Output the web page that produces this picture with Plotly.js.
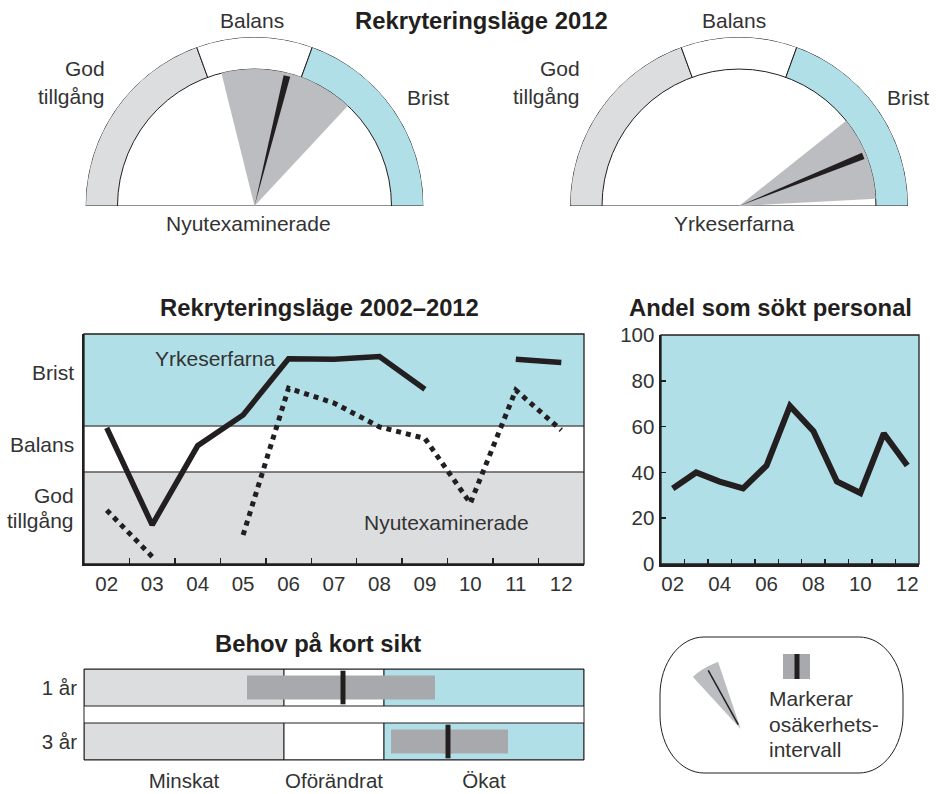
<!DOCTYPE html>
<html><head><meta charset="utf-8">
<script src="https://cdn.plot.ly/plotly-3.0.1.min.js"></script>
<style>html,body{margin:0;padding:0;background:#fff}#chart{width:940px;height:794px}</style>
</head><body><div id="chart"></div>
<script>
// ---------------- DATA ----------------
const years = [2002,2003,2004,2005,2006,2007,2008,2009,2010,2011,2012];
const yearLabels = ['02','03','04','05','06','07','08','09','10','11','12'];
const halfYears = [2002.5,2003.5,2004.5,2005.5,2006.5,2007.5,2008.5,2009.5,2010.5,2011.5];

// Rekryteringsläge 2002–2012 (scale: God tillgång 0–2, Balans 2–3, Brist 3–5)
const lageZoneNames = ['God tillgång','Balans','Brist'];
const lageZoneBounds = [0,2,3,5];
const yrkeserfarnaLage = [2.96,0.85,2.57,3.24,4.46,4.45,4.51,3.80,null,4.45,4.38];
const nyutexLage      = [1.17,0.16,null,0.63,3.82,3.50,2.98,2.73,1.32,3.78,2.91];

// Andel som sökt personal (%)
const andelSokt = [33,40,36,33,43,69,58,36,31,57,43];
const andelTickYears = [2002,2004,2006,2008,2010,2012];
const andelTickLabels = ['02','04','06','08','10','12'];
const andelYTicks = [0,20,40,60,80,100];

// Behov på kort sikt (scale: Minskat 0–2, Oförändrat 2–3, Ökat 3–5)
const behovRows = ['1 år','3 år'];
const behovZoneNames = ['Minskat','Oförändrat','Ökat'];
const behovZoneBounds = [0,2,3,5];
const behovLow = [1.63,3.07];
const behovHigh = [3.51,4.24];
const behovEstimate = [2.59,3.64];

// Rekryteringsläge 2012 gauges (angles in degrees, 180 = God tillgång end, 0 = Brist end)
const gaugeNames = ['Nyutexaminerade','Yrkeserfarna'];
const gaugeZoneAngles = [180,110,70,0];
const gaugeEstimate = [76,22];
const gaugeLow = [47,3];
const gaugeHigh = [104,38.5];

// ---------------- STYLE ----------------
const W = 940, H = 794;
const px = x => x / W;
const py = y => 1 - y / H;
const dark = '#231f20', txt = '#333333';
const blue = '#b0dfe8', lightGrey = '#dcdddf', wedgeGrey = '#bcbdc0', barGrey = '#a7a9ac';
const FONT = 'Liberation Sans, Arial, sans-serif';
const GR = 169, GI = 137, GN = 134;

const traces = [];

// ----- gauges -----
const zoneColors = [lightGrey, '#ffffff', blue];
gaugeNames.forEach((name, g) => {
  const sp = g === 0 ? 'polar' : 'polar2';
  const zTheta = [], zWidth = [];
  for (let i = 0; i < 3; i++) {
    zTheta.push((gaugeZoneAngles[i] + gaugeZoneAngles[i+1]) / 2);
    zWidth.push(gaugeZoneAngles[i] - gaugeZoneAngles[i+1]);
  }
  traces.push({type:'barpolar', subplot:sp, r:[GR,GR,GR], theta:zTheta, width:zWidth,
    marker:{color:zoneColors, line:{color:dark, width:1}}});
  traces.push({type:'barpolar', subplot:sp, r:[GI], theta:[90], width:[180],
    marker:{color:'#ffffff', line:{color:dark, width:1}}});
  traces.push({type:'barpolar', subplot:sp, r:[GI], theta:[(gaugeLow[g]+gaugeHigh[g])/2],
    width:[gaugeHigh[g]-gaugeLow[g]], marker:{color:wedgeGrey, line:{width:0}}});
  traces.push({type:'barpolar', subplot:sp, r:[GN], theta:[gaugeEstimate[g]], width:[2.9],
    marker:{color:dark, line:{width:0}}});
});

// ----- legend wedge icon -----
const legWedge = {low:108.6, high:132.5, needle:119};
traces.push({type:'barpolar', subplot:'polar3', r:[71], theta:[(legWedge.low+legWedge.high)/2],
  width:[legWedge.high-legWedge.low], marker:{color:wedgeGrey, line:{width:0}}});
traces.push({type:'scatterpolar', subplot:'polar3', r:[5,67], theta:[legWedge.needle, legWedge.needle],
  mode:'lines', line:{color:dark, width:1.5}});

// ----- Rekryteringsläge 2002–2012 -----
traces.push({type:'scatter', x:years, y:yrkeserfarnaLage, mode:'lines', connectgaps:false,
  line:{color:dark, width:5.5}, xaxis:'x', yaxis:'y'});
traces.push({type:'scatter', x:years, y:nyutexLage, mode:'lines', connectgaps:false,
  line:{color:dark, width:5, dash:'dot'}, xaxis:'x', yaxis:'y'});

// ----- Andel som sökt personal -----
traces.push({type:'scatter', x:years, y:andelSokt, mode:'lines',
  line:{color:dark, width:6}, xaxis:'x3', yaxis:'y3'});

// ----- Behov på kort sikt -----
const behovZoneColors = [lightGrey, '#ffffff', blue];
for (let i = 0; i < 3; i++) {
  const w = behovZoneBounds[i+1] - behovZoneBounds[i];
  traces.push({type:'bar', orientation:'h', y:behovRows, x:behovRows.map(()=>w),
    base:behovRows.map(()=>behovZoneBounds[i]), width:0.685,
    marker:{color:behovZoneColors[i], line:{color:dark, width:1}}, xaxis:'x2', yaxis:'y2'});
}
traces.push({type:'bar', orientation:'h', y:behovRows, x:behovHigh.map((h,i)=>h-behovLow[i]),
  base:behovLow, width:0.444, marker:{color:barGrey, line:{width:0}}, xaxis:'x2', yaxis:'y2'});
traces.push({type:'scatter', mode:'markers', y:behovRows, x:behovEstimate,
  marker:{symbol:'line-ns', size:24, color:dark, line:{color:dark, width:5}}, xaxis:'x2', yaxis:'y2'});

// ---------------- LAYOUT ----------------
function polarAt(cx, cy, R, sector) {
  let x0, x1, y0 = cy - R, y1 = cy;
  if (sector[0] === 0) { x0 = cx - R; x1 = cx + R; } else { x0 = cx - R; x1 = cx; }
  return {domain:{x:[px(x0), px(x1)], y:[py(y1), py(y0)]}, sector:sector, hole:0,
    bgcolor:'rgba(0,0,0,0)', barmode:'overlay',
    radialaxis:{visible:false, range:[0, R], showgrid:false, showline:false, showticklabels:false, ticks:''},
    angularaxis:{visible:false, direction:'counterclockwise', rotation:0, showgrid:false, showline:false, showticklabels:false, ticks:''}};
}

function ann(text, x, y, opts) {
  return Object.assign({text:text, x:px(x), y:py(y), xref:'paper', yref:'paper', showarrow:false,
    xanchor:'center', yanchor:'middle', font:{family:FONT, size:21, color:txt}}, opts || {});
}
const bold = (t, x, y) => ann('<b>' + t + '</b>', x, y, {font:{family:FONT, size:23.8, color:dark}});

const annotations = [
  bold('Rekryteringsläge 2012', 481, 20),
  ann('Balans', 252, 20),
  ann('God', 107, 68, {xanchor:'right'}),
  ann('tillgång', 107, 96, {xanchor:'right'}),
  ann('Brist', 405, 98, {xanchor:'left'}),
  ann(gaugeNames[0], 248, 224),
  ann('Balans', 734, 20),
  ann('God', 582, 68, {xanchor:'right'}),
  ann('tillgång', 582, 96, {xanchor:'right'}),
  ann('Brist', 885, 98, {xanchor:'left'}),
  ann(gaugeNames[1], 734, 224),
  bold('Rekryteringsläge 2002–2012', 319, 308),
  bold('Andel som sökt personal', 770, 308),
  ann('Brist', 76, 373, {xanchor:'right'}),
  ann('Balans', 76, 444, {xanchor:'right'}),
  ann('God', 76, 495, {xanchor:'right'}),
  ann('tillgång', 76, 520, {xanchor:'right'}),
  ann('Yrkeserfarna', 215, 358),
  ann('Nyutexaminerade', 446, 522),
  bold('Behov på kort sikt', 318, 643),
  ann('Markerar', 767, 698, {xanchor:'left'}),
  ann('osäkerhets-', 767, 724, {xanchor:'left'}),
  ann('intervall', 767, 749, {xanchor:'left'})
];

// stadium legend frame
function stadiumPath(x0, y0, x1, y1, rx, ry) {
  const k = 0.5523;
  const P = (x, y) => px(x) + ',' + py(y);
  return 'M' + P(x0+rx, y0) + ' L' + P(x1-rx, y0) +
    ' C' + P(x1-rx+k*rx, y0) + ' ' + P(x1, y0+ry-k*ry) + ' ' + P(x1, y0+ry) +
    ' L' + P(x1, y1-ry) +
    ' C' + P(x1, y1-ry+k*ry) + ' ' + P(x1-rx+k*rx, y1) + ' ' + P(x1-rx, y1) +
    ' L' + P(x0+rx, y1) +
    ' C' + P(x0+rx-k*rx, y1) + ' ' + P(x0, y1-ry+k*ry) + ' ' + P(x0, y1-ry) +
    ' L' + P(x0, y0+ry) +
    ' C' + P(x0, y0+ry-k*ry) + ' ' + P(x0+rx-k*rx, y0) + ' ' + P(x0+rx, y0) + ' Z';
}

const shapes = [
  // chart 1 zones
  {type:'rect', xref:'x domain', yref:'y', x0:0, x1:1, y0:lageZoneBounds[2], y1:lageZoneBounds[3], fillcolor:blue, line:{width:0}, layer:'below'},
  {type:'rect', xref:'x domain', yref:'y', x0:0, x1:1, y0:lageZoneBounds[0], y1:lageZoneBounds[1], fillcolor:lightGrey, line:{width:0}, layer:'below'},
  {type:'line', xref:'x domain', yref:'y', x0:0, x1:1, y0:lageZoneBounds[1], y1:lageZoneBounds[1], line:{color:'#58595b', width:1.5}, layer:'below'},
  {type:'line', xref:'x domain', yref:'y', x0:0, x1:1, y0:lageZoneBounds[2], y1:lageZoneBounds[2], line:{color:'#58595b', width:1.5}, layer:'below'},
  {type:'rect', xref:'x domain', yref:'y domain', x0:0, x1:1, y0:0, y1:1, line:{color:dark, width:1.3}, fillcolor:'rgba(0,0,0,0)'},
  // chart 2 background and frame
  {type:'rect', xref:'x3 domain', yref:'y3 domain', x0:0, x1:1, y0:0, y1:1, fillcolor:blue, line:{width:0}, layer:'below'},
  {type:'rect', xref:'x3 domain', yref:'y3 domain', x0:0, x1:1, y0:0, y1:1, line:{color:dark, width:1.3}, fillcolor:'rgba(0,0,0,0)'},
  // bars frame
  {type:'rect', xref:'x2 domain', yref:'y2 domain', x0:0, x1:1, y0:0, y1:1, line:{color:dark, width:1}, fillcolor:'rgba(0,0,0,0)'},
  // legend frame and bar icon
  {type:'path', xref:'paper', yref:'paper', path:stadiumPath(660, 637, 903, 773, 44, 58), line:{color:dark, width:1}, fillcolor:'rgba(0,0,0,0)'},
  {type:'rect', xref:'paper', yref:'paper', x0:px(783), x1:px(810), y0:py(679), y1:py(654), fillcolor:barGrey, line:{width:0}},
  {type:'rect', xref:'paper', yref:'paper', x0:px(794.5), x1:px(799.5), y0:py(679), y1:py(654), fillcolor:dark, line:{width:0}}
];

const tickFont = {family:FONT, size:20.5, color:txt};
const layout = {
  width:W, height:H, margin:{l:0, r:0, t:0, b:0}, showlegend:false, hovermode:false,
  paper_bgcolor:'#ffffff', plot_bgcolor:'rgba(0,0,0,0)', barmode:'overlay',
  font:{family:FONT, color:txt},
  polar: polarAt(254.5, 206, GR, [0,180]),
  polar2: polarAt(739, 206, GR, [0,180]),
  polar3: polarAt(740.7, 729, 71, [90,180]),
  xaxis:{domain:[px(84), px(584)], anchor:'y', range:[2001.5, 2012.5], tickmode:'array', tickvals:years, ticktext:yearLabels,
    ticks:'', showline:true, linecolor:dark, linewidth:2, showgrid:false, zeroline:false, tickfont:tickFont,
    minor:{tickmode:'array', tickvals:halfYears, ticks:'inside', ticklen:6, tickwidth:1.5, tickcolor:dark, showgrid:false}},
  yaxis:{domain:[py(564), py(334)], anchor:'x', range:[0,5], showticklabels:false, ticks:'', showline:true,
    linecolor:dark, linewidth:2, showgrid:false, zeroline:false},
  xaxis2:{domain:[px(84), px(584)], anchor:'y2', range:[0,5], tickmode:'array', tickvals:[1,2.5,4], ticktext:behovZoneNames,
    ticks:'', showline:false, showgrid:false, zeroline:false, tickfont:tickFont, ticklabelstandoff:6},
  yaxis2:{domain:[py(760), py(669)], anchor:'x2', type:'category', categoryorder:'array', categoryarray:['3 år','1 år'],
    range:[-0.3426, 1.3426], ticks:'', showline:false, showgrid:false, zeroline:false, tickfont:tickFont, ticklabelstandoff:6},
  xaxis3:{domain:[px(661), px(919)], anchor:'y3', range:[2001.5, 2012.5], tickmode:'array', tickvals:andelTickYears, ticktext:andelTickLabels,
    ticks:'', showline:true, linecolor:dark, linewidth:2.5, showgrid:false, zeroline:false, tickfont:tickFont,
    minor:{tickmode:'array', tickvals:halfYears, ticks:'inside', ticklen:5, tickwidth:1.5, tickcolor:dark, showgrid:false}},
  yaxis3:{domain:[py(564), py(335)], anchor:'x3', range:[0,100], tickmode:'array', tickvals:andelYTicks,
    ticks:'inside', ticklen:5, tickwidth:1.5, tickcolor:dark, showline:true, linecolor:dark, linewidth:2.5,
    showgrid:false, zeroline:false, tickfont:tickFont},
  annotations: annotations,
  shapes: shapes
};

Plotly.newPlot('chart', traces, layout, {staticPlot:true, displayModeBar:false});
</script>
</body></html>
